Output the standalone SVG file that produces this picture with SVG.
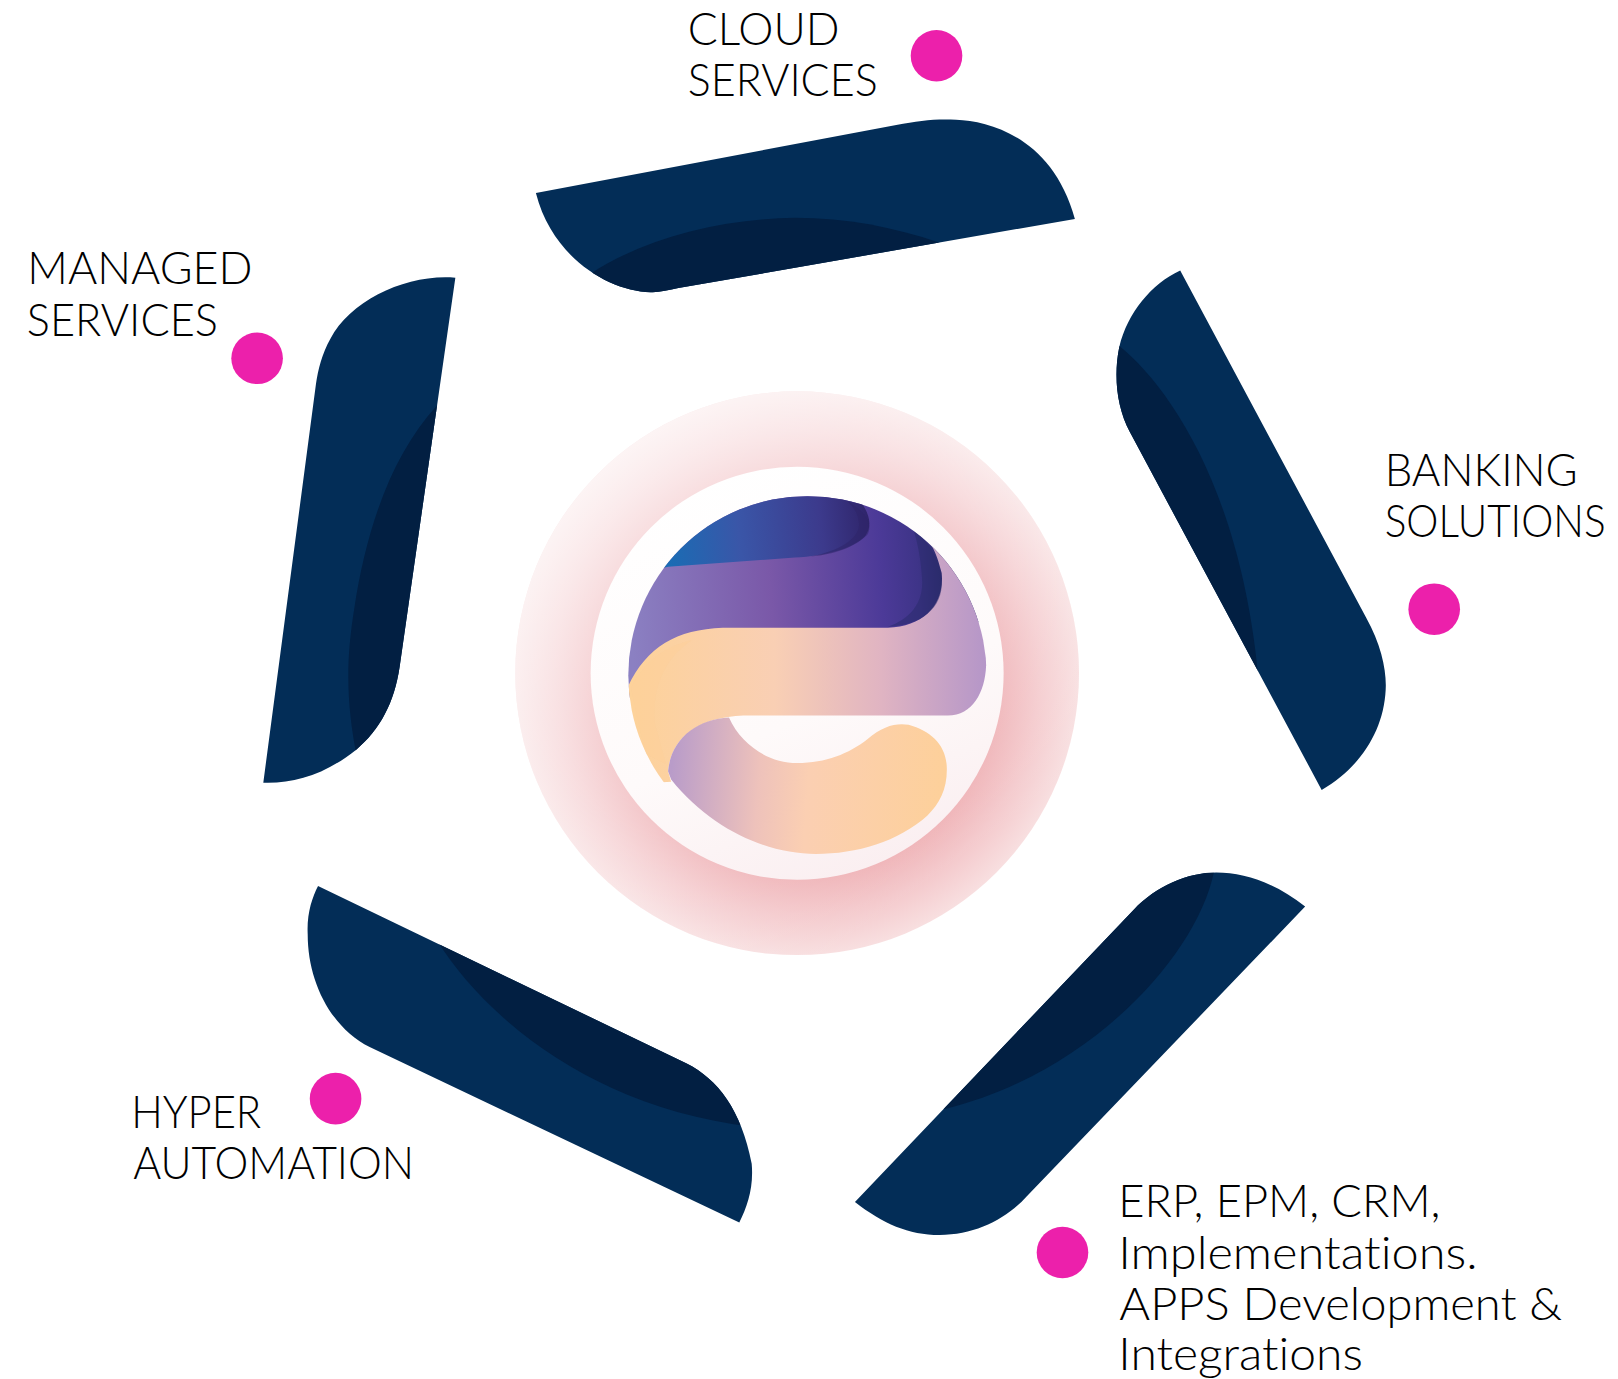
<svg xmlns="http://www.w3.org/2000/svg" xmlns:xlink="http://www.w3.org/1999/xlink" width="1618" height="1379" viewBox="0 0 1618 1379">
<style>
.blade{fill:#032d57}
.shade{fill:#021f42}
.dot{fill:#ec20ab}
.lbl{font-family:"Lato","Liberation Sans",sans-serif;font-weight:300;font-size:44px;fill:#000;font-variant-ligatures:none}
</style>
<defs>
<path id="p1" d="M519,187 L868,121 C890,117 905,115 926,116 C960,117 1020,135 1041,212 L657,279 C647,281 638,283.500 630,283 C590,282 535,250 519,187 Z"/>
<path id="p2" d="M1143,262 L1323,598 C1338,625 1343,650 1342,668 C1340,710 1315,745 1280,765 L1094,418 C1082,395 1078,365 1084,336 C1092,303 1115,275 1143,262 Z"/>
<path id="p3" d="M1264,878 C1235,855 1205,845 1178,845 C1150,845 1120,858 1098,881 L828,1164 C855,1185 880,1196 910,1196 C945,1196 975,1180 994,1159 Z"/>
<path id="p4" d="M308,858 L665,1030 C695,1045 718,1075 728,1127 C730,1150 724,1168 716,1184 L358,1014 C320,995 298,950 298,905 C297,885 302,870 308,858 Z"/>
<path id="p5" d="M441,269 C395,265 340,290 320,328 C312,342 308,358 306,372 L255,758 C285,759 315,750 345,726 C368,707 382,680 387,646 Z"/>
<clipPath id="c1"><use xlink:href="#p1"/></clipPath>
<clipPath id="c2"><use xlink:href="#p2"/></clipPath>
<clipPath id="c3"><use xlink:href="#p3"/></clipPath>
<clipPath id="c4"><use xlink:href="#p4"/></clipPath>
<clipPath id="c5"><use xlink:href="#p5"/></clipPath>
<radialGradient id="halo" gradientUnits="userSpaceOnUse" cx="772" cy="652" r="273">
<stop offset="0.73" stop-color="#efb2b6"/><stop offset="0.86" stop-color="#f4c9cc"/><stop offset="1" stop-color="#f8dfe0"/>
</radialGradient>
<linearGradient id="haloFade" gradientUnits="userSpaceOnUse" x1="590" y1="440" x2="900" y2="860">
<stop offset="0" stop-color="#fff" stop-opacity="0.68"/><stop offset="0.55" stop-color="#fff" stop-opacity="0.3"/><stop offset="1" stop-color="#fff" stop-opacity="0"/>
</linearGradient>
<linearGradient id="disc" x1="0.3" y1="0" x2="0.7" y2="1">
<stop offset="0" stop-color="#fff"/><stop offset="0.6" stop-color="#fefafa"/><stop offset="1" stop-color="#faeef0"/>
</linearGradient>
<linearGradient id="gBlue" gradientUnits="userSpaceOnUse" x1="645" y1="520" x2="845" y2="500">
<stop offset="0" stop-color="#1a6cb4"/><stop offset="0.35" stop-color="#3a56a8"/><stop offset="0.75" stop-color="#3c3a8c"/><stop offset="1" stop-color="#2e2368"/>
</linearGradient>
<linearGradient id="gTop" gradientUnits="userSpaceOnUse" x1="610" y1="590" x2="915" y2="570">
<stop offset="0" stop-color="#8b80c2"/><stop offset="0.45" stop-color="#7a58a8"/><stop offset="0.8" stop-color="#4c3a98"/><stop offset="0.92" stop-color="#3e3488"/><stop offset="1" stop-color="#2c2c6c"/>
</linearGradient>
<linearGradient id="gMid" gradientUnits="userSpaceOnUse" x1="615" y1="650" x2="955" y2="650">
<stop offset="0" stop-color="#fdd29a"/><stop offset="0.4" stop-color="#f9cfb4"/><stop offset="0.7" stop-color="#e0b4c2"/><stop offset="1" stop-color="#b596c8"/>
</linearGradient>
<linearGradient id="gLow" gradientUnits="userSpaceOnUse" x1="650" y1="750" x2="915" y2="770">
<stop offset="0" stop-color="#b99cc9"/><stop offset="0.32" stop-color="#eec2bb"/><stop offset="0.5" stop-color="#fbcfb2"/><stop offset="1" stop-color="#fdd09a"/>
</linearGradient>
<clipPath id="sphere"><circle cx="782" cy="654" r="173.500"/></clipPath>
</defs>
<rect width="1618" height="1379" fill="#fff"/>
<g transform="scale(1.03255)">
<g id="blade-cloud">
<use xlink:href="#p1" class="blade"/>
<path class="shade" clip-path="url(#c1)" d="M572,265 C625,230 700,212 770,211 C820,211 865,220 910,235 L800,310 L560,310 Z"/>
</g>
<g id="blade-banking">
<use xlink:href="#p2" class="blade"/>
<path class="shade" clip-path="url(#c2)" d="M1084,335 C1130,372 1200,470 1218,650 L1140,600 L1060,440 L1060,320 Z"/>
</g>
<g id="blade-erp">
<use xlink:href="#p3" class="blade"/>
<path class="shade" clip-path="url(#c3)" d="M1176,843 C1160,925 1055,1040 915,1074 L880,1060 L1080,830 L1170,830 Z"/>
</g>
<g id="blade-hyper">
<use xlink:href="#p4" class="blade"/>
<path class="shade" clip-path="url(#c4)" d="M424,912 C470,985 575,1075 735,1092 L740,1020 L640,960 L430,890 Z"/>
</g>
<g id="blade-managed">
<use xlink:href="#p5" class="blade"/>
<path class="shade" clip-path="url(#c5)" d="M423,393 C380,440 355,510 343,590 C335,640 335,680 346,735 L420,730 L460,380 Z"/>
</g>
<g id="hub">
<circle cx="772" cy="652" r="273" fill="url(#halo)"/>
<circle cx="772" cy="652" r="273" fill="url(#haloFade)"/>
<circle cx="772" cy="652" r="200" fill="url(#disc)"/>
<g clip-path="url(#sphere)">
<path fill="url(#gTop)" d="M600,470 H960 V600 L912,610 H600 Z M600,610 H860 L600,680 Z"/>
<path fill="url(#gBlue)" d="M600,470 H822 C838,490 848,505 838,519 C825,532 800,538 770,540 L647,549 L600,560 Z"/>
<path fill="#2e2468" fill-opacity="0.5" d="M820,485 C838,495 846,508 840,518 C825,533 800,538 785,539 C812,534 832,522 832,508 C832,498 826,490 820,485 Z"/>
<path fill="url(#gMid)" d="M602,680 C620,630 650,610 700,608 H860 C895,607 915,585 912,555 C908,540 905,532 900,525 L970,560 V640 L955,645 C954,670 942,693 918,693 H720 C675,695 650,715 647,747 L650,757 L600,760 Z"/>
<path fill="#27296a" fill-opacity="0.5" d="M885,514 C902,526 910,545 912,562 C914,590 890,606 860,607 C880,600 895,585 893,560 C892,545 890,530 885,514 Z"/>
<path fill="#fdd09a" fill-opacity="0.5" d="M611,666 C625,640 645,625 670,620 C640,640 632,670 634,700 L645,740 L625,730 Z"/>
</g>
<path fill="url(#gLow)" d="M647,747 C650,715 675,697 706,695 C718,722 745,739 772,739 C800,739 822,730 840,716 C855,703 868,700 880,702 C902,708 917,722 917,745 C917,765 910,778 898,790 C870,815 830,827 790,827 C745,827 690,805 650,755 Z"/>
</g>
<g id="dots">
<circle class="dot" cx="907" cy="54" r="25"/>
<circle class="dot" cx="1389" cy="590" r="25"/>
<circle class="dot" cx="1029" cy="1213" r="25"/>
<circle class="dot" cx="325" cy="1064" r="25"/>
<circle class="dot" cx="249" cy="347" r="25"/>
</g>
<g id="label-cloud">
<text class="lbl" x="666" y="44" textLength="147" lengthAdjust="spacingAndGlyphs">CLOUD</text>
<text class="lbl" x="666" y="93" textLength="184" lengthAdjust="spacingAndGlyphs">SERVICES</text>
</g>
<g id="label-managed">
<text class="lbl" x="26.500" y="275" textLength="218" lengthAdjust="spacingAndGlyphs">MANAGED</text>
<text class="lbl" x="26" y="325" textLength="185" lengthAdjust="spacingAndGlyphs">SERVICES</text>
</g>
<g id="label-banking">
<text class="lbl" x="1341" y="471" textLength="187" lengthAdjust="spacingAndGlyphs">BANKING</text>
<text class="lbl" x="1341" y="520" textLength="214" lengthAdjust="spacingAndGlyphs">SOLUTIONS</text>
</g>
<g id="label-hyper">
<text class="lbl" x="127" y="1092" textLength="126" lengthAdjust="spacingAndGlyphs">HYPER</text>
<text class="lbl" x="129" y="1142" textLength="272" lengthAdjust="spacingAndGlyphs">AUTOMATION</text>
</g>
<g id="label-erp">
<text class="lbl" x="1083" y="1179" textLength="312" lengthAdjust="spacingAndGlyphs">ERP, EPM, CRM,</text>
<text class="lbl" x="1083" y="1229" textLength="348" lengthAdjust="spacingAndGlyphs">Implementations.</text>
<text class="lbl" x="1084" y="1278" textLength="429" lengthAdjust="spacingAndGlyphs">APPS Development &amp;</text>
<text class="lbl" x="1083" y="1327" textLength="237" lengthAdjust="spacingAndGlyphs">Integrations</text>
</g>
</g>
</svg>
